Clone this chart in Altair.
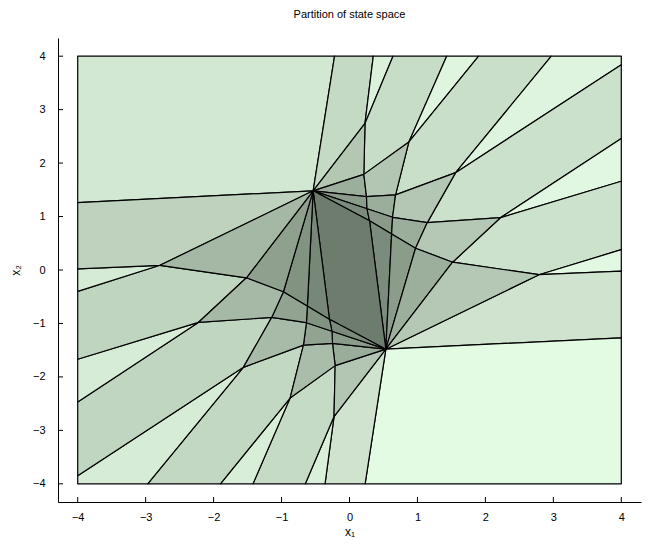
import altair as alt
import pandas as pd

# ---- vertices of the partition (state-space coordinates) ----
VERTEX_NAMES = [
    "TL", "TR", "BR", "BL",
    "T1", "T2", "T3", "T4", "T5", "T6",
    "B1", "B2", "B3", "B4", "B5", "B6",
    "R1", "R2", "R3", "R4", "R5", "R6",
    "L1", "L2", "L3", "L4", "L5", "L6",
    "A", "B",
    "V2", "V3", "V4", "V5", "V6", "V7", "V8", "V9", "V10", "V11", "V12", "V13", "V14", "V15", "V16",
    "V2m", "V3m", "V4m", "V5m", "V6m", "V7m", "V8m", "V9m", "V10m", "V11m", "V12m", "V13m", "V14m", "V15m", "V16m",
]
VERTEX_X = [
    -4, 4, 4, -4,
    -0.22, 0.35, 0.64, 1.43, 1.90, 2.97,
    -2.97, -1.90, -1.42, -0.65, -0.36, 0.23,
    4, 4, 4, 4, 4, 4,
    -4, -4, -4, -4, -4, -4,
    -0.535, 0.535,
    0.228, 0.211, 0.874, 1.562, 0.678, 2.225, 0.250, 0.295, 0.972, 2.789, 1.517, 0.634, 1.145, 0.258, 0.620,
    -0.228, -0.211, -0.874, -1.562, -0.678, -2.225, -0.250, -0.295, -0.972, -2.789, -1.517, -0.634, -1.145, -0.258, -0.620,
]
VERTEX_Y = [
    4, 4, -4, -4,
    4, 4, 4, 4, 4, 4,
    -4, -4, -4, -4, -4, -4,
    3.84, 2.46, 1.66, 0.38, -0.02, -1.27,
    1.26, 0.02, -0.40, -1.67, -2.47, -3.85,
    1.481, -1.481,
    2.742, 1.789, 2.396, 1.821, 1.406, 0.981, 1.373, 0.921, 0.407, -0.088, 0.146, 0.986, 0.887, 1.145, 0.674,
    -2.742, -1.789, -2.396, -1.821, -1.406, -0.981, -1.373, -0.921, -0.407, 0.088, -0.146, -0.986, -0.887, -1.145, -0.674,
]

# ---- regions (polytopes) as vertex lists ----
REGIONS = [
    "A T1 TL L1", "A T1 T2 V2", "V2 T2 T3", "V2 T3 T4 V4 V3", "V4 T4 T5",
    "V4 T5 T6 V5 V6", "V5 T6 TR R1", "V5 R1 R2 V7 V14", "V7 R2 R3",
    "V7 R3 R4 V11 V12", "V11 R4 R5", "V11 R5 R6 B", "B R6 BR B6",
    "B B6 B5 V2m", "V2m B5 B4", "V2m B4 B3 V4m V3m", "V4m B3 B2",
    "V4m B2 B1 V5m V6m", "V5m B1 BL L6", "V5m L6 L5 V7m V14m", "V7m L5 L4",
    "V7m L4 L3 V11m V12m", "V11m L3 L2", "V11m L2 L1 A",
    "A V2 V3", "A V3 V8", "A V8 V15", "A V15 V9",
    "V3 V4 V6 V8", "V8 V6 V13 V15", "V6 V5 V14 V13",
    "V15 V13 V16 V9", "V13 V14 V10 V16", "V14 V7 V12 V10",
    "B V9 V16", "B V16 V10", "B V10 V12", "B V12 V11",
    "A V9 B V9m",
    "B V2m V3m", "B V3m V8m", "B V8m V15m", "B V15m V9m",
    "V3m V4m V6m V8m", "V8m V6m V13m V15m", "V6m V5m V14m V13m",
    "V15m V13m V16m V9m", "V13m V14m V10m V16m", "V14m V7m V12m V10m",
    "A V9m V16m", "A V16m V10m", "A V10m V12m", "A V12m V11m",
]
REGION_COLORS = [
    "#d3e8d3", "#c5dac5", "#dcf1dc", "#c8ddc8", "#e0f5e0",
    "#cadfca", "#dff4df", "#cce1cc", "#e1f7e1",
    "#cde2cd", "#e2f8e2", "#cfe3cf", "#e3fae3",
    "#cfe3cf", "#dbf0db", "#c6dbc6", "#d9eed9",
    "#c3d8c3", "#d7ecd7", "#c1d6c1", "#d7ecd7",
    "#c0d5c0", "#d6ebd6", "#bed2be",
    "#b3c7b3", "#9cae9c", "#8b9c8b", "#7c8c7c",
    "#b3c6b3", "#9bad9b", "#b4c7b4",
    "#899a89", "#9bad9b", "#b5c8b5",
    "#7c8c7c", "#8b9c8b", "#9cae9c", "#b5c8b5",
    "#6e7c6e",
    "#b3c6b3", "#9aac9a", "#8a9b8a", "#7b8b7b",
    "#aabcaa", "#92a392", "#a8baa8",
    "#829382", "#92a392", "#a6b8a6",
    "#788878", "#829382", "#8fa08f", "#a5b7a5",
]

X_TICKS = [-4, -3, -2, -1, 0, 1, 2, 3, 4]
Y_TICKS = [-4, -3, -2, -1, 0, 1, 2, 3, 4]

# ---- build the polygon table ----
coords = {n: (x, y) for n, x, y in zip(VERTEX_NAMES, VERTEX_X, VERTEX_Y)}
rows = []
for rid, (verts, col) in enumerate(zip(REGIONS, REGION_COLORS)):
    names = verts.split()
    names = names + [names[0]]
    for k, n in enumerate(names):
        x, y = coords[n]
        rows.append({"region": rid, "order": k, "x": x, "y": y, "fillc": col})
df = pd.DataFrame(rows)

W, H = 583, 464
FONT = "Liberation Sans"
xscale = alt.Scale(domain=[-4.29, 4.29], nice=False, zero=False)
yscale = alt.Scale(domain=[-4.34, 4.34], nice=False, zero=False)
xaxis = alt.Axis(values=X_TICKS, title="x₁", grid=False, ticks=False, tickSize=0,
                 labelPadding=9, titleY=29, titleBaseline="middle",
                 titleFontWeight="normal", titleFontSize=12, titleFont=FONT)
yaxis = alt.Axis(values=Y_TICKS, title="x₂", grid=False, ticks=False, tickSize=0,
                 labelPadding=13, titleX=-43, titleY=H / 2, titleBaseline="middle",
                 titleFontWeight="normal", titleFontSize=12, titleFont=FONT)

polys = alt.Chart(df).mark_line(
    stroke="black", strokeWidth=1.2, strokeJoin="round"
).encode(
    x=alt.X("x:Q", scale=xscale, axis=xaxis),
    y=alt.Y("y:Q", scale=yscale, axis=yaxis),
    fill=alt.Fill("fillc:N", scale=None),
    detail="region:N",
    order="order:Q",
)

xt = alt.Chart(pd.DataFrame({"x": X_TICKS})).mark_rule(color="black", strokeWidth=1).encode(
    x=alt.X("x:Q", scale=xscale, axis=xaxis),
    y=alt.value(H), y2=alt.value(H - 5),
)
yt = alt.Chart(pd.DataFrame({"y": Y_TICKS})).mark_rule(color="black", strokeWidth=1).encode(
    y=alt.Y("y:Q", scale=yscale, axis=yaxis),
    x=alt.value(0), x2=alt.value(5),
)

chart = alt.layer(polys, xt, yt).properties(
    width=W, height=H,
    title=alt.TitleParams("Partition of state space", fontSize=11, fontWeight="normal",
                          font=FONT, offset=18, frame="group", anchor="middle"),
    autosize=alt.AutoSizeParams(type="none"),
    padding={"left": 50, "top": 30, "right": 2, "bottom": 45},
).configure_axis(
    domainColor="black", domainWidth=1, labelFont=FONT, labelFontSize=11,
    labelColor="black", titleColor="black",
).configure_view(strokeOpacity=0)

chart.save("out.html", embed_options={"renderer": "svg", "actions": False})
